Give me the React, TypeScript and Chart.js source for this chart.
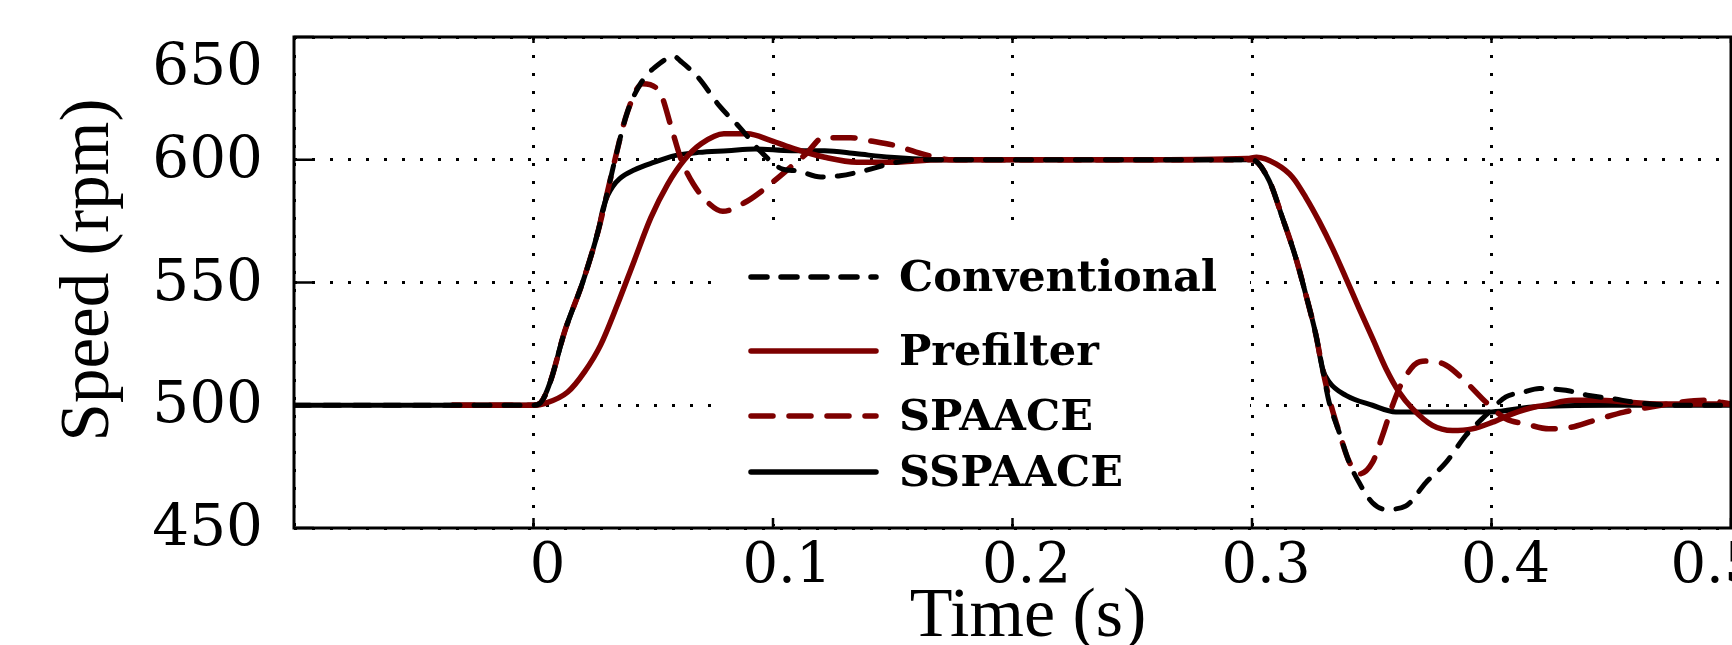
import React, { useEffect, useRef } from 'react';
import { Chart, registerables } from 'chart.js';

Chart.register(...registerables);

// ---- data (time in s, speed in rpm) ----
const conventionalTime = [-0.1, -0.05, 0, 0.003, 0.007, 0.013, 0.0205, 0.027, 0.031, 0.034, 0.039, 0.045, 0.0505, 0.0588, 0.0616, 0.0685, 0.078, 0.086, 0.0945, 0.104, 0.11, 0.12, 0.128, 0.138, 0.149, 0.16, 0.2, 0.25, 0.3, 0.3072, 0.3127, 0.3183, 0.3225, 0.3267, 0.3294, 0.3322, 0.3364, 0.3406, 0.3447, 0.3503, 0.3558, 0.3642, 0.3726, 0.381, 0.3893, 0.3976, 0.406, 0.413, 0.42, 0.431, 0.4407, 0.4505, 0.461, 0.48, 0.5];
const conventionalSpeed = [500, 500, 500, 501, 509.5, 530, 550, 571, 587.4, 600, 618.8, 631.5, 637.5, 642, 640, 633.8, 621.5, 613.3, 603.7, 596.2, 595.5, 593, 593.5, 595.5, 598.4, 600, 600, 600, 600, 591.4, 576.4, 560, 545, 528.6, 515, 501.3, 489, 476.7, 468.5, 460.3, 457.6, 459, 468.5, 476.7, 487.7, 495.9, 503.4, 505.2, 506.8, 506.1, 504, 502.7, 501, 500, 500];

const prefilterTime = [-0.034, 0, 0.005, 0.0143, 0.0213, 0.028, 0.035, 0.042, 0.049, 0.056, 0.063, 0.07, 0.0795, 0.0893, 0.0992, 0.109, 0.1216, 0.135, 0.149, 0.17, 0.2, 0.25, 0.298, 0.3019, 0.31, 0.317, 0.3225, 0.328, 0.3336, 0.3392, 0.3447, 0.3503, 0.3559, 0.3614, 0.367, 0.3753, 0.3837, 0.392, 0.4004, 0.4087, 0.418, 0.4226, 0.4337, 0.4448, 0.456, 0.47, 0.5];
const prefilterSpeed = [500, 500, 500.8, 505.4, 513.6, 524.5, 540.9, 558.7, 576.4, 590, 600, 606.5, 610.6, 610.6, 607.8, 604.4, 601, 599, 599, 600, 600, 600, 600.5, 601, 598.3, 592.8, 584.6, 575, 564, 551.8, 539.5, 527.3, 515, 505.4, 498.6, 491.8, 489.7, 490.4, 493.1, 496.5, 499.3, 500, 502, 502, 501.3, 500.5, 500.5];

const spaaceTime = [-0.034, 0, 0.003, 0.007, 0.013, 0.0205, 0.027, 0.031, 0.034, 0.039, 0.0456, 0.053, 0.0575, 0.0617, 0.0668, 0.0735, 0.079, 0.089, 0.0955, 0.1055, 0.1138, 0.121, 0.1325, 0.14, 0.151, 0.162, 0.175, 0.2, 0.25, 0.3, 0.3072, 0.3127, 0.3183, 0.3225, 0.3267, 0.3294, 0.3322, 0.3364, 0.3406, 0.3447, 0.3503, 0.3545, 0.3587, 0.3628, 0.37, 0.374, 0.381, 0.3893, 0.3976, 0.406, 0.4143, 0.424, 0.4331, 0.4428, 0.4553, 0.4665, 0.479, 0.489, 0.5];
const spaaceSpeed = [500, 500, 501, 509.5, 530, 550, 571, 587.4, 600, 618.8, 631, 627, 613.3, 600, 590, 582, 579, 583, 587.4, 595.5, 602.4, 609, 609, 607.8, 605.8, 602.5, 600, 600, 600, 600, 591.4, 576.4, 560, 545, 528.6, 515, 503, 489, 477, 472, 476.7, 487.7, 500, 509.5, 517.7, 518, 516.3, 509.5, 501.3, 494.5, 492.4, 490.4, 491, 493.8, 497.2, 499.3, 501.3, 502, 500.5];

const sspaaceTime = [-0.1, -0.05, 0, 0.003, 0.007, 0.013, 0.0205, 0.027, 0.029, 0.031, 0.033, 0.036, 0.042, 0.0505, 0.059, 0.069, 0.081, 0.0925, 0.1076, 0.1216, 0.135, 0.149, 0.17, 0.2, 0.25, 0.3, 0.3072, 0.3127, 0.3183, 0.3225, 0.3267, 0.3294, 0.3322, 0.3392, 0.3503, 0.36, 0.38, 0.4, 0.417, 0.45, 0.5];
const sspaaceSpeed = [500, 500, 500, 501, 509.5, 530, 550, 571, 580, 585.5, 589, 592.3, 595.8, 599, 601.7, 603, 603.7, 604.4, 603.7, 603.7, 602.4, 601, 600, 600, 600, 600, 591.4, 576.4, 560, 545, 528.6, 515, 509.5, 504, 500, 497.3, 497.3, 497.3, 499.3, 500, 500];

const seriesLabels = ['Conventional', 'Prefilter', 'SPAACE', 'SSPAACE'];
const xTickValues = [0, 0.1, 0.2, 0.3, 0.4, 0.5];
const xTickLabels = ['0', '0.1', '0.2', '0.3', '0.4', '0.5'];
const yTickValues = [450, 500, 550, 600, 650];
const yTickLabels = ['450', '500', '550', '600', '650'];
const xTitle = 'Time (s)';
const yTitle = 'Speed (rpm)';

const DARK_RED = '#7d0000';

const pts = (ts: number[], vs: number[]) => ts.map((t, i) => ({ x: t, y: vs[i] }));

export default function App() {
  const ref = useRef<HTMLCanvasElement>(null);

  useEffect(() => {
    const canvas = ref.current!;

    const decor = {
      id: 'decor',
      beforeDraw(chart: any) {
        // nudge the edge labels the way the original figure places them
        const xItems = chart.scales.x.getLabelItems(chart.chartArea);
        const lastX = xItems[xItems.length - 1];
        if (lastX) lastX.options.translation = [lastX.options.translation[0] - 30, lastX.options.translation[1]];
        const yItems = chart.scales.y.getLabelItems(chart.chartArea);
        const lastY = yItems[yItems.length - 1];
        if (lastY) lastY.options.translation = [lastY.options.translation[0], lastY.options.translation[1] + 30];
      },
      beforeDatasetsDraw(chart: any) {
        const ctx = chart.ctx;
        ctx.save();
        ctx.fillStyle = '#ffffff';
        ctx.fillRect(712, 234, 1250 - 712, 524 - 234);
        ctx.restore();
      },
      afterDatasetsDraw(chart: any) {
        const ctx = chart.ctx;
        const a = chart.chartArea;
        const xs = chart.scales.x;
        const ys = chart.scales.y;
        ctx.save();
        ctx.strokeStyle = '#000';
        ctx.lineWidth = 3;
        ctx.setLineDash([]);
        ctx.strokeRect(a.left, a.top, a.right - a.left, a.bottom - a.top);
        ctx.lineWidth = 2.5;
        xTickValues.forEach((v) => {
          const px = xs.getPixelForValue(v);
          ctx.beginPath();
          ctx.moveTo(px, a.bottom);
          ctx.lineTo(px, a.bottom - 10);
          ctx.moveTo(px, a.top);
          ctx.lineTo(px, a.top + 6);
          ctx.stroke();
        });
        yTickValues.forEach((v) => {
          const py = ys.getPixelForValue(v);
          ctx.beginPath();
          ctx.moveTo(a.left, py);
          ctx.lineTo(a.left + 20, py);
          ctx.stroke();
        });
        // legend
        const rows = [277, 351, 416, 472];
        chart.data.datasets.forEach((ds: any, i: number) => {
          const y = rows[i];
          ctx.save();
          ctx.strokeStyle = ds.borderColor;
          ctx.lineWidth = 5.5;
          ctx.lineCap = 'round';
          ctx.setLineDash(ds.borderDash || []);
          ctx.beginPath();
          ctx.moveTo(751, y);
          ctx.lineTo(876, y);
          ctx.stroke();
          ctx.restore();
          ctx.fillStyle = '#000';
          ctx.font = 'bold 43px "DejaVu Serif"';
          ctx.textAlign = 'left';
          ctx.textBaseline = 'middle';
          ctx.fillText(ds.label, 899, y + 3);
        });
        ctx.restore();
      },
      afterDraw(chart: any) {
        const ctx = chart.ctx;
        ctx.save();
        ctx.fillStyle = '#000';
        ctx.font = '70px "Liberation Serif"';
        ctx.textAlign = 'center';
        ctx.textBaseline = 'alphabetic';
        ctx.fillText(xTitle, 1028, 636);
        ctx.font = '69px "Liberation Serif"';
        ctx.translate(108, 270);
        ctx.rotate(-Math.PI / 2);
        ctx.fillText(yTitle, 0, 0);
        ctx.restore();
      },
    };

    const chart = new Chart(canvas, {
      type: 'line',
      data: {
        datasets: [
          {
            label: seriesLabels[0],
            data: pts(conventionalTime, conventionalSpeed),
            borderColor: '#000000',
            borderWidth: 5,
            borderDash: [16, 14],
            borderCapStyle: 'round',
            pointRadius: 0,
            cubicInterpolationMode: 'monotone',
            fill: false,
          },
          {
            label: seriesLabels[1],
            data: pts(prefilterTime, prefilterSpeed),
            borderColor: DARK_RED,
            borderWidth: 5.5,
            pointRadius: 0,
            cubicInterpolationMode: 'monotone',
            fill: false,
          },
          {
            label: seriesLabels[2],
            data: pts(spaaceTime, spaaceSpeed),
            borderColor: DARK_RED,
            borderWidth: 5.5,
            borderDash: [22, 16],
            borderCapStyle: 'round',
            pointRadius: 0,
            cubicInterpolationMode: 'monotone',
            fill: false,
          },
          {
            label: seriesLabels[3],
            data: pts(sspaaceTime, sspaaceSpeed),
            borderColor: '#000000',
            borderWidth: 5,
            pointRadius: 0,
            cubicInterpolationMode: 'monotone',
            fill: false,
          },
        ],
      } as any,
      options: {
        animation: false,
        responsive: false,
        devicePixelRatio: 1,
        layout: { padding: { top: 37, right: 1900 - 1731, left: 0, bottom: 0 } },
        plugins: { legend: { display: false }, tooltip: { enabled: false }, title: { display: false } },
        scales: {
          x: {
            type: 'linear',
            min: -0.1,
            max: 0.5,
            afterFit: (s: any) => { s.height = 645 - 528; },
            afterBuildTicks: (s: any) => {
              s.ticks = [-0.1, ...xTickValues].map((v) => ({ value: v }));
            },
            ticks: {
              autoSkip: false,
              maxRotation: 0,
              padding: 11,
              labelOffset: 14,
              color: '#000',
              font: { family: '"DejaVu Serif"', size: 56, lineHeight: 1 },
              callback: (v: any) => {
                const i = xTickValues.findIndex((t) => Math.abs(t - Number(v)) < 1e-9);
                return i >= 0 ? xTickLabels[i] : '';
              },
            },
            grid: { color: '#000', lineWidth: 3, drawTicks: false },
            border: { display: false, dash: [3, 15] },
          },
          y: {
            type: 'linear',
            min: 450,
            max: 650,
            afterFit: (s: any) => { s.width = 294; },
            afterBuildTicks: (s: any) => {
              s.ticks = yTickValues.map((v) => ({ value: v }));
            },
            ticks: {
              padding: 31,
              labelOffset: 2,
              color: '#000',
              font: { family: '"DejaVu Serif"', size: 58, lineHeight: 0.1 },
              callback: (v: any) => {
                const i = yTickValues.indexOf(Number(v));
                return i >= 0 ? yTickLabels[i] : '';
              },
            },
            grid: { color: '#000', lineWidth: 3, drawTicks: false },
            border: { display: false, dash: [3, 15] },
          },
        },
      } as any,
      plugins: [decor],
    });

    return () => chart.destroy();
  }, []);

  return (
    <div style={{ position: 'fixed', left: 0, top: 0, width: 1732, height: 645, overflow: 'hidden', background: '#fff' }}>
      <canvas ref={ref} width={1900} height={645} style={{ display: 'block', width: 1900, height: 645 }} />
    </div>
  );
}
